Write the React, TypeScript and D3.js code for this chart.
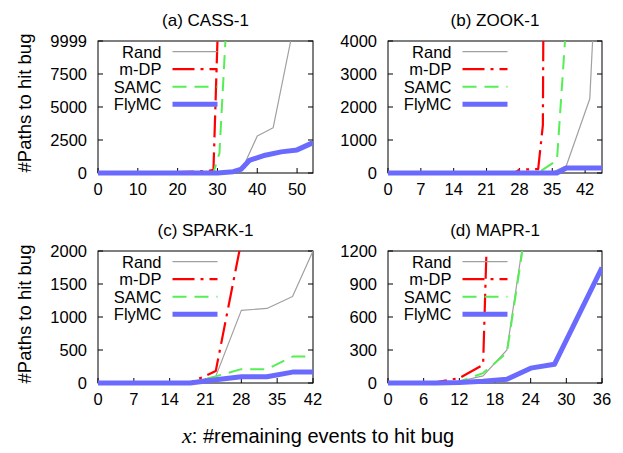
import React, { useEffect, useRef } from 'react';
import * as d3 from 'd3';

type Pt = [number, number];

// (a) CASS-1
const cassRand: Pt[] = [[0, 0], [4, 0], [8, 0], [12, 0], [16, 0], [20, 5], [24, 10], [28, 20], [32, 40], [36, 150], [40, 2800], [44, 3430], [48.4, 9999]];
const cassMdp: Pt[] = [[0, 0], [4, 0], [8, 0], [12, 0], [16, 0], [20, 60], [27.5, 150], [29, 250], [30, 9999]];
const cassSamc: Pt[] = [[0, 0], [4, 0], [8, 0], [12, 0], [16, 0], [20, 0], [28, 0], [29, 30], [30.5, 1500], [32, 9999]];
const cassFly: Pt[] = [[0, 0], [10, 0], [20, 0], [30, 0], [34, 100], [36, 300], [38, 950], [42, 1350], [46, 1600], [50, 1750], [54, 2300]];

// (b) ZOOK-1
const zookRand: Pt[] = [[0, 0], [7, 0], [14, 0], [21, 0], [28, 0], [35, 20], [38, 220], [43, 2250], [44, 5200]];
const zookMdp: Pt[] = [[0, 0], [7, 0], [14, 0], [21, 0], [27, 10], [28, 100], [32, 120], [33, 1450], [33.3, 9999]];
const zookSamc: Pt[] = [[0, 0], [7, 0], [14, 0], [21, 0], [28, 0], [32, 10], [36, 380], [38, 4600]];
const zookFly: Pt[] = [[0, 0], [7, 0], [14, 0], [21, 0], [28, 0], [36, 0], [38, 150], [45.6, 150]];

// (c) SPARK-1
const sparkRand: Pt[] = [[0, 0], [7, 0], [14, 0], [18, 5], [23, 100], [28, 1100], [33, 1130], [38, 1310], [42, 2000]];
const sparkMdp: Pt[] = [[0, 0], [7, 0], [14, 0], [18, 5], [21, 110], [23, 180], [28, 2150]];
const sparkSamc: Pt[] = [[0, 0], [7, 0], [14, 0], [18, 5], [23, 100], [28, 210], [33, 210], [38, 400], [42, 400]];
const sparkFly: Pt[] = [[0, 0], [7, 0], [14, 0], [18, 0], [23, 50], [28, 95], [33, 95], [38, 165], [42, 165]];

// (d) MAPR-1
const maprRand: Pt[] = [[0, 0], [4, 0], [8, 2], [12, 15], [16, 65], [20, 300], [24, 1740]];
const maprMdp: Pt[] = [[0, 0], [4, 0], [8, 5], [12, 45], [16, 165], [17, 2000]];
const maprSamc: Pt[] = [[0, 0], [4, 0], [8, 2], [12, 12], [16, 90], [20, 275], [24, 1700]];
const maprFly: Pt[] = [[0, 0], [4, 0], [8, 0], [12, 5], [16, 15], [20, 35], [24, 135], [28, 170], [36, 1050]];

const seriesNames = ['Rand', 'm-DP', 'SAMC', 'FlyMC'];
const titles = ['(a) CASS-1', '(b) ZOOK-1', '(c) SPARK-1', '(d) MAPR-1'];
const xMaxes = [54, 45.6, 42, 36];
const yMaxes = [9999, 4000, 2000, 1200];
const xTicks = [
  [0, 10, 20, 30, 40, 50],
  [0, 7, 14, 21, 28, 35, 42],
  [0, 7, 14, 21, 28, 35, 42],
  [0, 6, 12, 18, 24, 30, 36],
];
const yTicks = [
  [0, 2500, 5000, 7500, 9999],
  [0, 1000, 2000, 3000, 4000],
  [0, 500, 1000, 1500, 2000],
  [0, 300, 600, 900, 1200],
];
const panelSeries = [
  [cassRand, cassMdp, cassSamc, cassFly],
  [zookRand, zookMdp, zookSamc, zookFly],
  [sparkRand, sparkMdp, sparkSamc, sparkFly],
  [maprRand, maprMdp, maprSamc, maprFly],
];

const styles = [
  { color: '#a0a0a0', width: 1.2, dash: null as string | null },
  { color: '#ff0000', width: 2.2, dash: '22,6,3,6' },
  { color: '#55ee55', width: 2, dash: '14,8' },
  { color: '#6a6aff', width: 5, dash: null as string | null },
];

const FONT = '"Liberation Sans", Arial, Helvetica, sans-serif';
const W = 623;
const H = 453;

export default function App() {
  const svgRef = useRef<SVGSVGElement>(null);

  useEffect(() => {
    if (!svgRef.current) return;
    const svg = d3.select(svgRef.current);
    svg.selectAll('*').remove();

    const lefts = [98, 388];
    const rights = [313, 602];
    const tops = [41, 251];
    const plotH = 132;

    titles.forEach((title, i) => {
      const col = i % 2;
      const row = Math.floor(i / 2);
      const left = lefts[col];
      const right = rights[col];
      const top = tops[row];
      const bottom = top + plotH;

      const x = d3.scaleLinear().domain([0, xMaxes[i]]).range([left, right]);
      const y = d3.scaleLinear().domain([0, yMaxes[i]]).range([bottom, top]);

      const g = svg.append('g');

      // title
      g.append('text')
        .attr('x', (left + right) / 2)
        .attr('y', top - 15)
        .attr('text-anchor', 'middle')
        .attr('font-family', FONT)
        .attr('font-size', 17)
        .text(title);

      // ticks: inward, x on bottom only, y mirrored on the right
      xTicks[i].forEach((t) => {
        g.append('line').attr('x1', x(t)).attr('x2', x(t)).attr('y1', bottom).attr('y2', bottom - 5)
          .attr('stroke', '#000').attr('stroke-width', 1);
        g.append('text')
          .attr('x', x(t))
          .attr('y', bottom + 22)
          .attr('text-anchor', 'middle')
          .attr('font-family', FONT)
          .attr('font-size', 16.5)
          .text(t);
      });
      yTicks[i].forEach((t) => {
        g.append('line').attr('x1', left).attr('x2', left + 5).attr('y1', y(t)).attr('y2', y(t))
          .attr('stroke', '#000').attr('stroke-width', 1);
        g.append('line').attr('x1', right).attr('x2', right - 5).attr('y1', y(t)).attr('y2', y(t))
          .attr('stroke', '#000').attr('stroke-width', 1);
        g.append('text')
          .attr('x', left - 11)
          .attr('y', y(t))
          .attr('dy', '0.36em')
          .attr('text-anchor', 'end')
          .attr('font-family', FONT)
          .attr('font-size', 16.5)
          .text(t);
      });

      // frame
      g.append('rect')
        .attr('x', left).attr('y', top)
        .attr('width', right - left).attr('height', plotH)
        .attr('fill', 'none').attr('stroke', '#000').attr('stroke-width', 1);

      const clipId = `clip-${i}`;
      svg.append('defs').append('clipPath').attr('id', clipId)
        .append('rect')
        .attr('x', left).attr('y', top)
        .attr('width', right - left).attr('height', plotH + 4);

      const line = d3.line<Pt>().x((d) => x(d[0])).y((d) => y(d[1]));

      const lines = g.append('g').attr('clip-path', `url(#${clipId})`);
      panelSeries[i].forEach((data, s) => {
        const st = styles[s];
        lines.append('path')
          .datum(data)
          .attr('d', line)
          .attr('fill', 'none')
          .attr('stroke', st.color)
          .attr('stroke-width', st.width)
          .attr('stroke-dasharray', st.dash)
          .attr('stroke-linejoin', 'round');
      });

      // legend
      seriesNames.forEach((name, s) => {
        const st = styles[s];
        const ly = top + 10.7 + s * 17.5;
        g.append('text')
          .attr('x', left + 63.5)
          .attr('y', ly)
          .attr('dy', '0.36em')
          .attr('text-anchor', 'end')
          .attr('font-family', FONT)
          .attr('font-size', 16.5)
          .text(name);
        g.append('line')
          .attr('x1', left + 74.5).attr('x2', left + 119.5)
          .attr('y1', ly).attr('y2', ly)
          .attr('stroke', st.color)
          .attr('stroke-width', st.width)
          .attr('stroke-dasharray', st.dash);
      });
    });

    // y axis labels
    [103, 314].forEach((cy) => {
      svg.append('text')
        .attr('transform', `translate(31,${cy}) rotate(-90)`)
        .attr('text-anchor', 'middle')
        .attr('font-family', FONT)
        .attr('font-size', 18.5)
        .text('#Paths to hit bug');
    });

    // x axis label
    const xl = svg.append('text')
      .attr('x', 182)
      .attr('y', 443)
      .attr('font-family', FONT)
      .attr('font-size', 20);
    xl.append('tspan')
      .attr('font-family', '"Liberation Serif", "DejaVu Serif", serif')
      .attr('font-style', 'italic')
      .attr('font-size', 22)
      .text('x');
    xl.append('tspan').text(': #remaining events to hit bug');
  }, []);

  return (
    <div style={{ position: 'absolute', left: 0, top: 0, background: '#fff' }}>
      <svg ref={svgRef} width={W} height={H} style={{ display: 'block' }} />
    </div>
  );
}
